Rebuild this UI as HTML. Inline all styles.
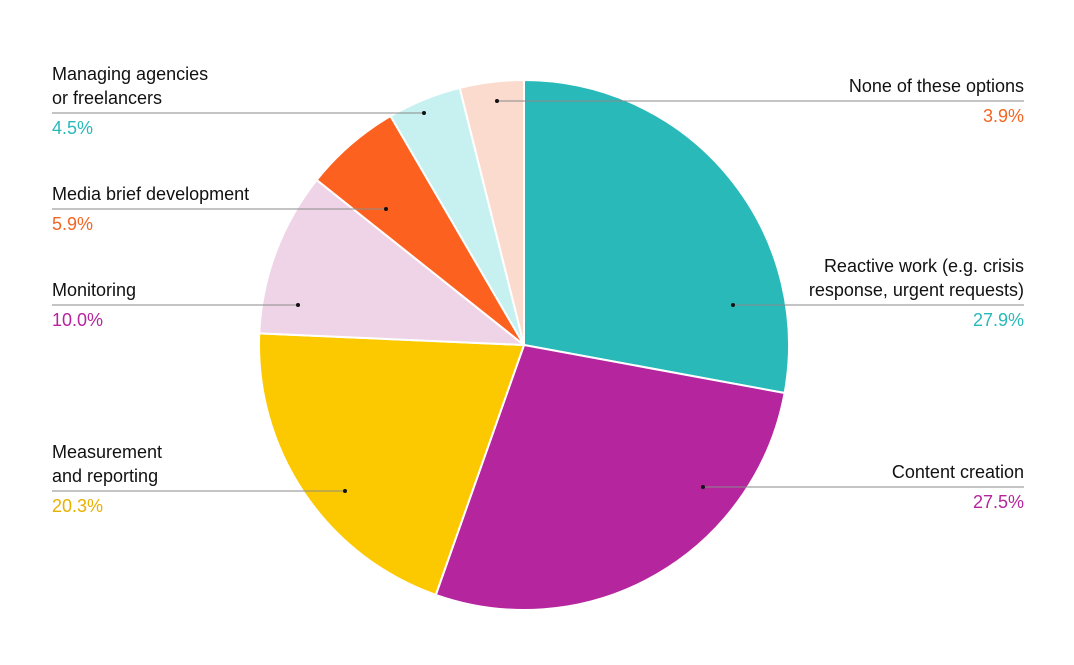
<!DOCTYPE html>
<html><head><meta charset="utf-8"><style>
body{margin:0;background:#fff;}
svg text{font-family:"Liberation Sans",sans-serif;font-size:18px;fill:#111;}
</style></head><body>
<svg id="chart" width="1074" height="660" xmlns="http://www.w3.org/2000/svg"></svg>
<script>
const categories=["Reactive work (e.g. crisis|response, urgent requests)","Content creation","Measurement|and reporting","Monitoring","Media brief development","Managing agencies|or freelancers","None of these options"];
const values=[27.9,27.5,20.3,10.0,5.9,4.5,3.9];
const valueLabels=["27.9%","27.5%","20.3%","10.0%","5.9%","4.5%","3.9%"];
const colors=["#29b9b9","#b5259e","#fcc900","#efd4e7","#fd6120","#c6f1f0","#fadbce"];
const labelColors=["#29b9b9","#b5259e","#e8b000","#b5259e","#f26522","#29b9b9","#f26522"];
const side=["r","r","l","l","l","l","r"];
const leadY=[305,487,491,305,209,113,101];
const dotX=[733,703,345,298,386,424,497];
const svg=document.getElementById('chart');
const NS="http://www.w3.org/2000/svg";
const cx=524,cy=345,R=265;
function mk(t,a){const e=document.createElementNS(NS,t);for(const k in a)e.setAttribute(k,a[k]);svg.appendChild(e);return e;}
const total=values.reduce((a,b)=>a+b,0);
let acc=0;
function pt(f,r){const a=f*2*Math.PI-Math.PI/2;return [cx+r*Math.cos(a),cy+r*Math.sin(a)];}
values.forEach((v,i)=>{
  const f0=acc/total,f1=(acc+v)/total;acc+=v;
  const p0=pt(f0,R),p1=pt(f1,R);const large=(f1-f0)>0.5?1:0;
  const p=mk('path',{d:`M${cx},${cy}L${p0[0]},${p0[1]}A${R},${R} 0 ${large} 1 ${p1[0]},${p1[1]}Z`,fill:colors[i],stroke:'#fff','stroke-width':2,'stroke-linejoin':'round'});
  
  
});
categories.forEach((c,i)=>{
  const y=leadY[i],r=side[i]==='r';
  const x1=r?dotX[i]:52,x2=r?1024:dotX[i];
  const l=mk('line',{x1:x1,y1:y,x2:x2,y2:y,stroke:'#8a8a8a','stroke-width':1});
  
  
  const d=mk('circle',{cx:dotX[i],cy:y,r:2,fill:'#111'});
  
  
  const lines=c.split('|');
  const tx=r?1024:52,anchor=r?'end':'start';
  lines.forEach((s,j)=>{
    const t=mk('text',{x:tx,y:y-9-(lines.length-1-j)*24,'text-anchor':anchor});
    t.textContent=s;
    
    
  });
  const pv=mk('text',{x:tx,y:y+21,'text-anchor':anchor});
  pv.style.fill=labelColors[i];
  pv.textContent=valueLabels[i];
  
  
});
</script>
</body></html>
